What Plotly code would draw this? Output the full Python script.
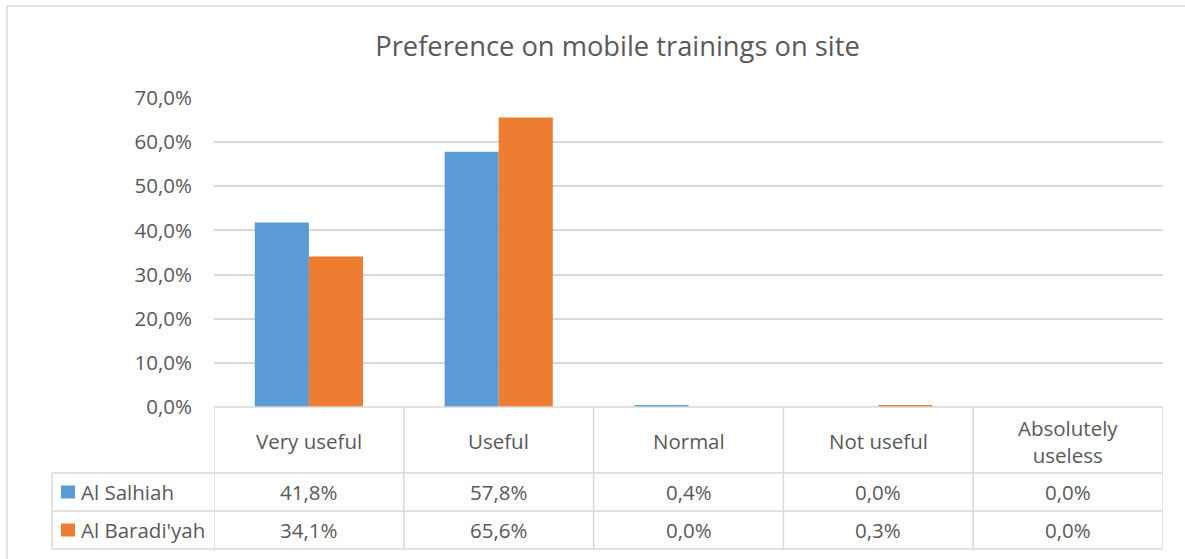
import plotly.graph_objects as go

categories = ["Very useful", "Useful", "Normal", "Not useful", "Absolutely useless"]
header_labels = ["Very useful", "Useful", "Normal", "Not useful", "Absolutely<br>useless"]
series_names = ["Al Salhiah", "Al Baradi'yah"]
al_salhiah = [41.8, 57.8, 0.4, 0.0, 0.0]
al_baradiyah = [34.1, 65.6, 0.0, 0.3, 0.0]
colors = ["#5B9BD5", "#ED7D31"]
title_text = "Preference on mobile trainings on site"

W, H = 1185, 559
L, R, T, B = 214, 1163, 98, 407  # plot area in pixels
FONT = "Open Sans"
TXT = "#595959"
GRID = "#D9D9D9"
FS = 20.5


def px(x):
    return (x - L) / (R - L)


def py(y):
    return (B - y) / (B - T)


def fmt(v):
    return f"{v:.1f}%".replace(".", ",")


fig = go.Figure()
for name, vals, col in zip(series_names, [al_salhiah, al_baradiyah], colors):
    fig.add_trace(go.Bar(x=categories, y=vals, name=name, marker=dict(color=col, line=dict(width=0))))

shapes = []
line = dict(color=GRID, width=1.5)
# horizontal table lines
shapes.append(dict(type="line", xref="paper", yref="paper", x0=px(L), x1=px(R), y0=py(407), y1=py(407), line=line))
for yy in [473, 511, 549]:
    shapes.append(dict(type="line", xref="paper", yref="paper", x0=px(52), x1=px(R), y0=py(yy), y1=py(yy), line=line))
# vertical table lines
for i in range(len(categories) + 1):
    shapes.append(dict(type="line", xref="x", yref="paper", x0=i - 0.5, x1=i - 0.5, y0=py(407), y1=py(549), line=line))
shapes.append(dict(type="line", xref="paper", yref="paper", x0=px(52), x1=px(52), y0=py(473), y1=py(549), line=line))
# legend keys
for yy, col in zip([492, 530], colors):
    shapes.append(dict(type="rect", xref="paper", yref="paper", x0=px(61), x1=px(75), y0=py(yy - 6.5), y1=py(yy + 6.5),
                       fillcolor=col, line=dict(width=0)))
# outer chart border
shapes.append(dict(type="rect", xref="paper", yref="paper", x0=px(7), x1=px(1195), y0=py(6), y1=py(570),
                   line=dict(color=GRID, width=1.5), fillcolor="rgba(0,0,0,0)", layer="below"))

annotations = []
for i, lab in enumerate(header_labels):
    annotations.append(dict(x=i, y=py(441), xref="x", yref="paper", text=lab, showarrow=False,
                            font=dict(family=FONT, size=FS, color=TXT), xanchor="center", yanchor="middle"))
for yy, name, vals in zip([492, 530], series_names, [al_salhiah, al_baradiyah]):
    annotations.append(dict(x=px(79), y=py(yy), xref="paper", yref="paper", text=name, showarrow=False,
                            font=dict(family=FONT, size=FS, color=TXT), xanchor="left", yanchor="middle"))
    for i, v in enumerate(vals):
        annotations.append(dict(x=i, y=py(yy), xref="x", yref="paper", text=fmt(v), showarrow=False,
                                font=dict(family=FONT, size=FS, color=TXT), xanchor="center", yanchor="middle"))

fig.update_layout(
    width=W, height=H,
    margin=dict(l=L, r=W - R, t=T, b=H - B, pad=0),
    paper_bgcolor="white", plot_bgcolor="white",
    barmode="group", bargap=0.43, bargroupgap=0,
    showlegend=False,
    separators=", ",
    title=dict(text=title_text, x=(373 + 862) / 2 / W, xanchor="center", y=1 - 46 / H, yanchor="middle",
               font=dict(family=FONT, size=27.3, color=TXT)),
    font=dict(family=FONT, color=TXT),
    xaxis=dict(range=[-0.5, 4.5], showticklabels=False, showgrid=False, zeroline=False, showline=False, ticks=""),
    yaxis=dict(range=[0, 70], dtick=10, tickformat=".1f", ticksuffix="%", showgrid=True, gridcolor=GRID,
               gridwidth=1.5, zeroline=False, showline=False, ticks="", ticklabelstandoff=21,
               tickfont=dict(family=FONT, size=FS, color=TXT)),
    shapes=shapes,
    annotations=annotations,
)

fig.write_html("out.html", config={"displayModeBar": False},
               post_script="document.body.style.margin='0px';document.body.style.overflow='hidden';")
